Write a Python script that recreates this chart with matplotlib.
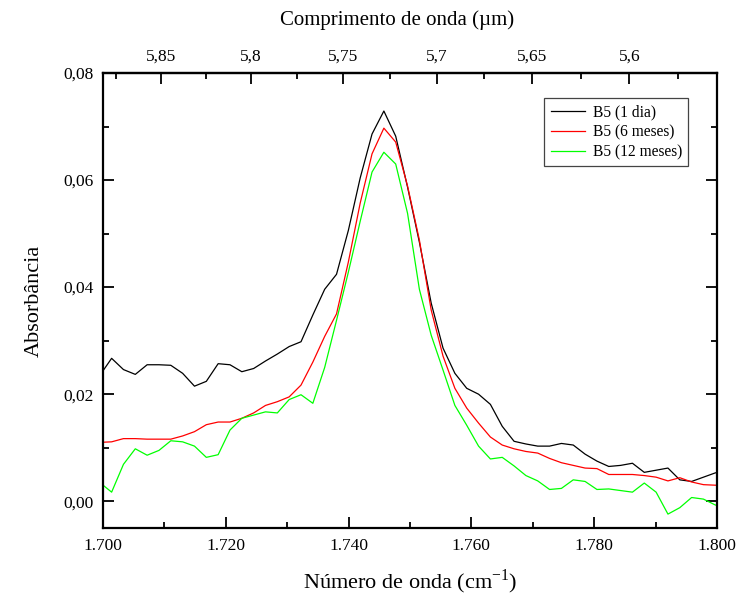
import matplotlib
matplotlib.use("Agg")
import matplotlib.pyplot as plt
from matplotlib.ticker import FixedLocator, FuncFormatter, MultipleLocator
import numpy as np

plt.rcParams['font.family'] = ['Liberation Serif', 'DejaVu Serif']

# wavenumber grid (cm-1), spectrometer step ~1.928
wavenumber = 1701.4 + 1.928 * np.arange(-1, 53)

b5_1dia = [0.0235, 0.0267, 0.0246, 0.0237, 0.0255, 0.0255, 0.0254, 0.0239, 0.0215, 0.0224,
           0.0257, 0.0255, 0.0242, 0.0248, 0.0262, 0.0275, 0.0289, 0.0298, 0.0348, 0.0396,
           0.0424, 0.0506, 0.0604, 0.0686, 0.0729, 0.0682, 0.0587, 0.0484, 0.0370, 0.0286,
           0.0239, 0.0211, 0.0200, 0.0181, 0.0140, 0.0112, 0.0107, 0.0103, 0.0103, 0.0108,
           0.0105, 0.0088, 0.0075, 0.0065, 0.0067, 0.0071, 0.0054, 0.0058, 0.0062, 0.0040,
           0.0037, 0.0045, 0.0053, 0.0057]

b5_6meses = [0.0110, 0.0111, 0.0117, 0.0117, 0.0116, 0.0116, 0.0116, 0.0122, 0.0130, 0.0143,
             0.0148, 0.0148, 0.0155, 0.0165, 0.0179, 0.0186, 0.0195, 0.0217, 0.0260, 0.0308,
             0.0350, 0.0447, 0.0557, 0.0649, 0.0697, 0.0671, 0.0589, 0.0488, 0.0357, 0.0271,
             0.0211, 0.0174, 0.0146, 0.0120, 0.0105, 0.0098, 0.0093, 0.0090, 0.0080, 0.0072,
             0.0067, 0.0062, 0.0061, 0.0050, 0.0050, 0.0050, 0.0048, 0.0045, 0.0038, 0.0044,
             0.0036, 0.0031, 0.0030, 0.0030]

b5_12meses = [0.0035, 0.0017, 0.0069, 0.0098, 0.0086, 0.0095, 0.0113, 0.0111, 0.0103, 0.0082,
              0.0087, 0.0133, 0.0155, 0.0161, 0.0167, 0.0165, 0.0190, 0.0199, 0.0183, 0.0250,
              0.0338, 0.0428, 0.0523, 0.0615, 0.0652, 0.0630, 0.0538, 0.0396, 0.0310, 0.0245,
              0.0179, 0.0142, 0.0103, 0.0079, 0.0082, 0.0066, 0.0048, 0.0038, 0.0022, 0.0024,
              0.0040, 0.0037, 0.0022, 0.0023, 0.0020, 0.0017, 0.0034, 0.0017, -0.0024, -0.0012,
              0.0007, 0.0004, -0.0007, -0.0012]

top_ticks = [5.85, 5.8, 5.75, 5.7, 5.65, 5.6]

fig = plt.figure(figsize=(7.38, 5.99), dpi=100)
ax = fig.add_axes([0.1396, 0.1185, 0.8319, 0.7596])

ax.plot(wavenumber, b5_1dia, color='black', lw=0.9, label='B5 (1 dia)')
ax.plot(wavenumber, b5_6meses, color='#ff0000', lw=0.9, label='B5 (6 meses)')
ax.plot(wavenumber, b5_12meses, color='#00ff00', lw=0.9, label='B5 (12 meses)')

ax.set_xlim(1700, 1800)
ax.set_ylim(-0.005, 0.08)

comma = lambda v, p: ('%g' % v).replace('.', ',')
ax.xaxis.set_major_locator(MultipleLocator(20))
ax.xaxis.set_minor_locator(MultipleLocator(10))
ax.xaxis.set_major_formatter(FuncFormatter(lambda v, p: '1.%03d' % (v - 1000)))
ax.yaxis.set_major_locator(MultipleLocator(0.02))
ax.yaxis.set_minor_locator(MultipleLocator(0.01))
ax.yaxis.set_major_formatter(FuncFormatter(lambda v, p: ('%.2f' % v).replace('.', ',')))

ax.tick_params(which='both', direction='in', top=False, right=True, width=1.3, labelsize=12.5)
ax.tick_params(which='major', length=8, pad=7)
ax.tick_params(which='minor', length=4.5)
for s in ax.spines.values():
    s.set_linewidth(1.6)

sec = ax.secondary_xaxis('top', functions=(lambda x: 10000.0 / x, lambda x: 10000.0 / x))
sec.xaxis.set_major_locator(FixedLocator(top_ticks))
sec.xaxis.set_minor_locator(FixedLocator([5.875, 5.825, 5.775, 5.725, 5.675, 5.625, 5.575]))
sec.xaxis.set_major_formatter(FuncFormatter(comma))
sec.tick_params(which='both', direction='in', width=1.3, labelsize=12.5)
sec.tick_params(which='major', length=8, pad=6)
sec.tick_params(which='minor', length=4.5)
sec.spines['top'].set_linewidth(1.6)
sec.set_xlabel('Comprimento de onda (\u00b5m)', fontsize=15, labelpad=17)
sec.xaxis.label.set_x(0.479)

ax.set_xlabel('N\u00famero de onda (cm$^{\\mathregular{-1}}$)', fontsize=16, labelpad=10)
ax.set_ylabel('Absorb\u00e2ncia', fontsize=16, labelpad=14)

leg = ax.legend(loc='upper right', bbox_to_anchor=(0.953, 0.945), borderaxespad=0,
                fontsize=11.2, fancybox=False, framealpha=1, edgecolor='#444444',
                handlelength=2.2, borderpad=0.4, labelspacing=0.25, handletextpad=0.5)
leg.get_frame().set_linewidth(0.9)

fig.savefig('out.png', dpi=100)
